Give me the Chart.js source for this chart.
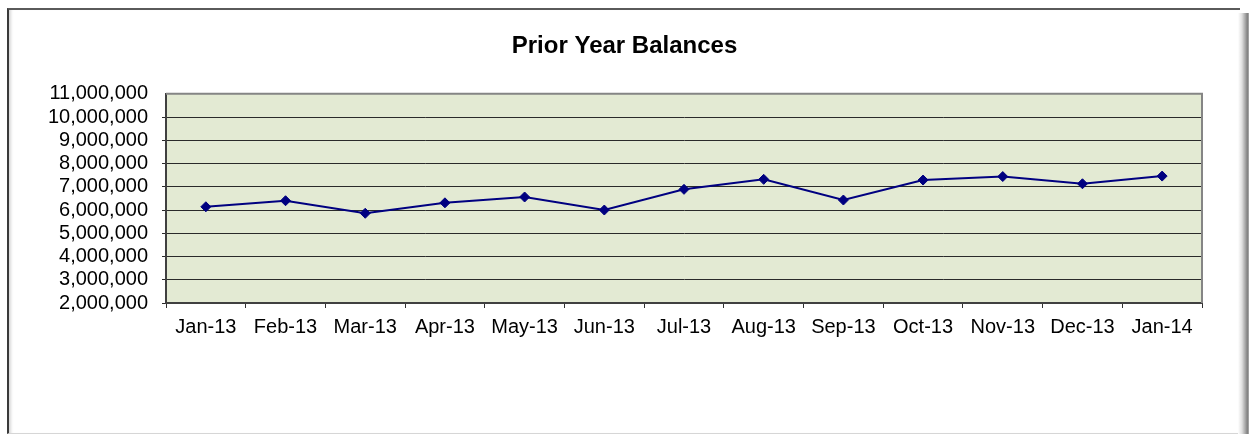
<!DOCTYPE html>
<html>
<head>
<meta charset="utf-8">
<title>Prior Year Balances</title>
<script src="https://cdn.jsdelivr.net/npm/chart.js@4/dist/chart.umd.min.js"></script>
<style>
  html, body { margin: 0; padding: 0; background: #fff; overflow: hidden; }
  #wrap { position: relative; width: 1249px; height: 434px; }
  #chart { position: absolute; left: 0; top: 0; }
  #frame {
    position: absolute; left: 7px; top: 8px; width: 1231px; height: 423px;
    border-top: 2px solid #5a5a5a; border-left: 2px solid #3a3a3a;
    border-bottom: 1px solid #d6d6d6; pointer-events: none;
    box-shadow: inset 4px 0 3px -2px #d8d8d8;
  }
  #shadow {
    position: absolute; left: 1238px; top: 13px; width: 11px; height: 421px;
    background: linear-gradient(to right, #ffffff 0%, #e0e0e0 35%, #a0a0a0 70%, #808080 85%, #b0b0b0 100%);
    pointer-events: none;
  }
</style>
</head>
<body>
<div id="wrap">
  <canvas id="chart" width="1249" height="434"></canvas>
  <div id="frame"></div>
  <div id="shadow"></div>
</div>
<script>
// months on the category axis
const months = ['Jan-13', 'Feb-13', 'Mar-13', 'Apr-13', 'May-13', 'Jun-13', 'Jul-13',
  'Aug-13', 'Sep-13', 'Oct-13', 'Nov-13', 'Dec-13', 'Jan-14'];

// balances
const balances = [6140000, 6400000, 5860000, 6310000, 6560000, 6000000, 6890000,
  7320000, 6430000, 7290000, 7440000, 7130000, 7460000];

// value axis
const yMin = 2000000;
const yMax = 11000000;
const yStep = 1000000;

const fontFamily = "'Liberation Sans', Arial, sans-serif";

// paints the pale green plot area and its grey frame
const plotArea = {
  id: 'plotArea',
  beforeDraw(chart) {
    const { ctx, chartArea: a } = chart;
    ctx.save();
    ctx.fillStyle = '#e3ead3';
    ctx.fillRect(a.left, a.top, a.right - a.left, a.bottom - a.top);
    ctx.restore();
  },
  afterDatasetsDraw(chart) {
    const { ctx, chartArea: a } = chart;
    ctx.save();
    ctx.strokeStyle = '#858585';
    ctx.lineWidth = 2;
    ctx.beginPath();
    ctx.moveTo(a.left, a.top);
    ctx.lineTo(a.right, a.top);
    ctx.lineTo(a.right, a.bottom);
    ctx.stroke();
    ctx.restore();
  }
};

new Chart(document.getElementById('chart'), {
  type: 'line',
  data: {
    labels: months,
    datasets: [{
      label: 'Prior Year Balances',
      data: balances,
      borderColor: '#000080',
      backgroundColor: '#000080',
      borderWidth: 2,
      tension: 0,
      pointStyle: 'rectRot',
      pointRadius: 5,
      pointHoverRadius: 5,
      pointBackgroundColor: '#000080',
      pointBorderColor: '#000080',
      pointBorderWidth: 1
    }]
  },
  options: {
    responsive: false,
    animation: false,
    devicePixelRatio: 1,
    layout: { padding: { left: 47, right: 47, top: 20, bottom: 0 } },
    plugins: {
      legend: { display: false },
      tooltip: { enabled: false },
      title: {
        display: true,
        text: 'Prior Year Balances',
        color: '#000',
        font: { family: fontFamily, size: 24, weight: 'bold' },
        padding: { top: 12, bottom: 33 }
      }
    },
    scales: {
      x: {
        offset: true,
        grid: {
          offset: true,
          drawOnChartArea: false,
          drawTicks: true,
          tickLength: 5,
          color: '#303030'
        },
        border: { display: true, color: '#404040', width: 2 },
        ticks: {
          color: '#000',
          font: { family: fontFamily, size: 20 },
          padding: 7,
          maxRotation: 0,
          autoSkip: false
        },
        afterFit(scale) { scale.height = 131; }
      },
      y: {
        min: yMin,
        max: yMax,
        grid: {
          color: (c) => c.tick && c.tick.value === yMax ? 'rgba(0,0,0,0)' : '#2a2a2a',
          lineWidth: 1,
          drawTicks: true,
          tickLength: 4
        },
        border: { display: true, color: '#404040', width: 2 },
        ticks: {
          stepSize: yStep,
          autoSkip: false,
          color: '#000',
          font: { family: fontFamily, size: 20 },
          padding: 14,
          callback: (v) => Number(v).toLocaleString('en-US')
        },
        afterFit(scale) { scale.width = 119; }
      }
    }
  },
  plugins: [plotArea]
});
</script>
</body>
</html>
